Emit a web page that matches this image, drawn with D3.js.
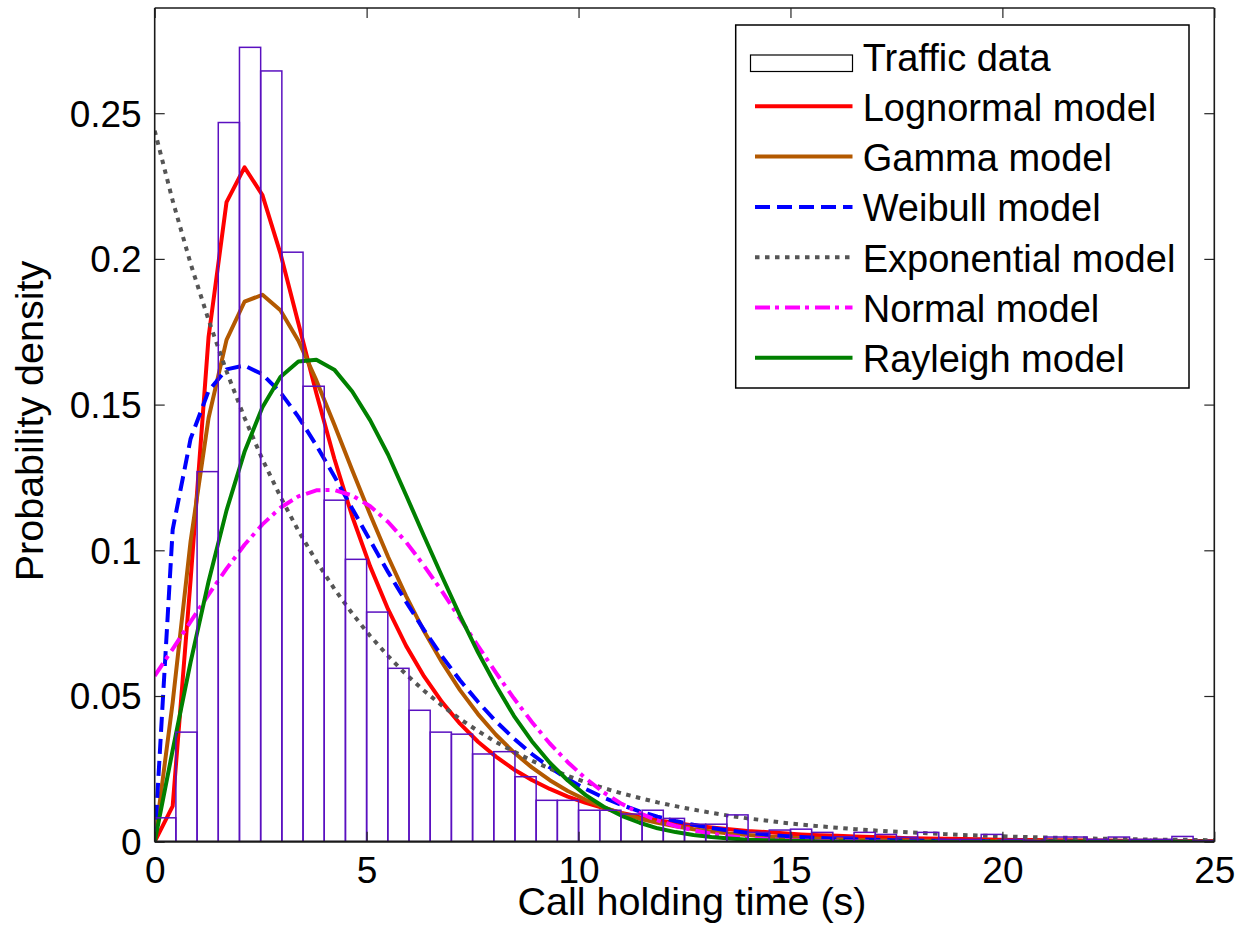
<!DOCTYPE html>
<html><head><meta charset="utf-8">
<script src="https://cdn.jsdelivr.net/npm/d3@7/dist/d3.min.js"></script>
<style>
body{margin:0;background:#fff}
svg text{font-family:"Liberation Sans",Arial,Helvetica,sans-serif;fill:#000}
</style>
</head><body><svg id="chart" width="1240" height="934"></svg>
<script>
// ---------------- data ----------------
const binEdges = [0,0.5,1,1.5,2,2.5,3,3.5,4,4.5,5,5.5,6,6.5,7,7.5,8,8.5,9,9.5,10,10.5,11,11.5,12,12.5,13,13.5,14,14.5,15,15.5,16,16.5,17,17.5,18,18.5,19,19.5,20,20.5,21,21.5,22,22.5,23,23.5,24,24.5,25];
const trafficDensity = [0.0082,0.0376,0.1270,0.2468,0.2726,0.2645,0.2023,0.1563,0.1172,0.0969,
  0.0788,0.0595,0.0451,0.0376,0.0369,0.0301,0.0309,0.0223,0.0142,0.0142,
  0.0108,0.0108,0.0095,0.0108,0.0080,0.0060,0.0060,0.0092,0.0032,0.0040,
  0.0043,0.0032,0.0017,0.0032,0.0025,0.0015,0.0032,0.0008,0.0008,0.0025,
  0.0008,0.0003,0.0016,0.0016,0.0008,0.0016,0.0008,0.0008,0.0018,0.0003];

const xGrid = [0,0.424,0.847,1.271,1.695,2.119,2.542,2.966,3.390,3.814,4.237,4.661,5.085,5.508,5.932,6.356,6.780,7.203,7.627,8.051,
  8.475,8.898,9.322,9.746,10.169,10.593,11.017,11.441,11.864,12.288,12.712,13.136,13.559,13.983,14.407,14.831,15.254,15.678,16.102,16.525,
  16.949,17.373,17.797,18.220,18.644,19.068,19.492,19.915,20.339,20.763,21.186,21.610,22.034,22.458,22.881,23.305,23.729,24.153,24.576,25.000];

const lognormalModel = [0,0.0122,0.0898,0.1732,0.2195,0.2314,0.2219,0.2019,0.1779,0.1539,0.1315,0.1116,0.0944,0.0797,0.0672,0.0567,0.0479,0.0405,0.0343,0.0292,
  0.0248,0.0212,0.0181,0.0155,0.0133,0.0115,0.0099,0.0086,0.0074,0.0064,0.0056,0.0049,0.0043,0.0037,0.0033,0.0029,0.0025,0.0022,0.0020,0.0018,
  0.0016,0.0014,0.0012,0.0011,0.0010,0.0009,0.0008,0.0007,0.0006,0.0006,0.0005,0.0005,0.0004,0.0004,0.0003,0.0003,0.0003,0.0002,0.0002,0.0002];

const gammaModel = [0,0.0478,0.1031,0.1454,0.1722,0.1853,0.1877,0.1824,0.1719,0.1583,0.1432,0.1275,0.1122,0.0977,0.0843,0.0722,0.0615,0.0520,0.0438,0.0367,
  0.0306,0.0255,0.0211,0.0174,0.0144,0.0118,0.0097,0.0079,0.0065,0.0053,0.0043,0.0035,0.0028,0.0023,0.0018,0.0015,0.0012,0.0010,0.0008,0.0006,
  0.0005,0.0004,0.0003,0.0003,0.0002,0.0002,0.0001,0.0001,0.0001,0.0001,0.0001,0,0,0,0,0,0,0,0,0];

const weibullModel = [0,0.1071,0.1383,0.1547,0.1621,0.1634,0.1604,0.1542,0.1458,0.1360,0.1254,0.1143,0.1033,0.0925,0.0823,0.0726,0.0636,0.0554,0.0480,0.0413,
  0.0354,0.0301,0.0255,0.0215,0.0181,0.0151,0.0126,0.0104,0.0086,0.0071,0.0058,0.0047,0.0038,0.0031,0.0025,0.0020,0.0016,0.0013,0.0010,0.0008,
  0.0007,0.0005,0.0004,0.0003,0.0003,0.0002,0.0002,0.0001,0.0001,0.0001,0.0001,0,0,0,0,0,0,0,0,0];

const exponentialModel = [0.2440,0.2200,0.1984,0.1790,0.1614,0.1455,0.1312,0.1184,0.1067,0.0963,0.0868,0.0783,0.0706,0.0637,0.0574,0.0518,0.0467,0.0421,0.0380,0.0342,
  0.0309,0.0278,0.0251,0.0226,0.0204,0.0184,0.0166,0.0150,0.0135,0.0122,0.0110,0.0099,0.0089,0.0080,0.0073,0.0065,0.0059,0.0053,0.0048,0.0043,
  0.0039,0.0035,0.0032,0.0029,0.0026,0.0023,0.0021,0.0019,0.0017,0.0015,0.0014,0.0013,0.0011,0.0010,0.0009,0.0008,0.0007,0.0007,0.0006,0.0005];

const normalModel = [0.0569,0.0661,0.0755,0.0848,0.0937,0.1019,0.1089,0.1146,0.1185,0.1206,0.1207,0.1188,0.1151,0.1097,0.1028,0.0947,0.0859,0.0766,0.0672,0.0580,
  0.0492,0.0411,0.0337,0.0273,0.0217,0.0169,0.0130,0.0098,0.0073,0.0054,0.0039,0.0027,0.0019,0.0013,0.0009,0.0006,0.0004,0.0002,0.0002,0.0001,
  0.0001,0,0,0,0,0,0,0,0,0,0,0,0,0,0,0,0,0,0,0];

const rayleighModel = [0,0.0314,0.0616,0.0893,0.1137,0.1338,0.1491,0.1595,0.1648,0.1654,0.1620,0.1545,0.1446,0.1328,0.1189,0.1048,0.0910,0.0776,0.0650,0.0536,
  0.0432,0.0345,0.0271,0.0210,0.0160,0.0120,0.0089,0.0065,0.0046,0.0033,0.0023,0.0016,0.0011,0.0007,0.0005,0.0003,0.0002,0.0001,0.0001,0,
  0,0,0,0,0,0,0,0,0,0,0,0,0,0,0,0,0,0,0,0];

const xTicks = [0,5,10,15,20,25];
const xTickLabels = ["0","5","10","15","20","25"];
const yTicks = [0,0.05,0.1,0.15,0.2,0.25];
const yTickLabels = ["0","0.05","0.1","0.15","0.2","0.25"];
const xDomain = [0,25];
const yDomain = [0,0.2861];
const xLabel = "Call holding time (s)";
const yLabel = "Probability density";
const histLabel = "Traffic data";

// model series (legend order)
const models = [
  {name:"Lognormal model",   values:lognormalModel,   color:"#ff0000", dash:null},
  {name:"Gamma model",       values:gammaModel,       color:"#b35900", dash:null},
  {name:"Weibull model",     values:weibullModel,     color:"#0000ff", dash:"15,7"},
  {name:"Exponential model", values:exponentialModel, color:"#555555", dash:"4.5,5.5"},
  {name:"Normal model",      values:normalModel,      color:"#ff00ff", dash:"15,5,4,6"},
  {name:"Rayleigh model",    values:rayleighModel,    color:"#008000", dash:null}
];

// ---------------- layout ----------------
const svg = d3.select("#chart");
const L = 154.7, R = 1214.3, T = 8, B = 841.7;
const TICKFONT = 37, LABELFONT = 39.5, LEGFONT = 38;
const x = d3.scaleLinear().domain(xDomain).range([L, R]);
const y = d3.scaleLinear().domain(yDomain).range([B, T]);

svg.append("rect").attr("width",1240).attr("height",934).attr("fill","#fff");

svg.append("defs").append("clipPath").attr("id","plotclip")
  .append("rect").attr("x",L).attr("y",T).attr("width",R-L).attr("height",B-T);

const plot = svg.append("g").attr("clip-path","url(#plotclip)");

// model curves
const line = d3.line().x(d=>x(d[0])).y(d=>y(d[1]));
models.forEach(m=>{
  plot.append("path")
    .datum(xGrid.map((xv,i)=>[xv,m.values[i]]))
    .attr("d",line)
    .attr("fill","none")
    .attr("stroke",m.color)
    .attr("stroke-width",4)
    .attr("stroke-linejoin","round")
    .attr("stroke-dasharray",m.dash);
});

// histogram (outlined bars)
plot.selectAll("rect.bar").data(trafficDensity).enter().append("rect")
  .attr("class","bar")
  .attr("x",(d,i)=>x(binEdges[i]))
  .attr("width",(d,i)=>x(binEdges[i+1])-x(binEdges[i]))
  .attr("y",d=>y(d))
  .attr("height",d=>B-y(d))
  .attr("fill","none")
  .attr("stroke","#5a10c0")
  .attr("stroke-width",1.5);

// ---------------- axes ----------------
function styleAxis(g){
  g.selectAll(".domain").remove();
  g.selectAll(".tick line").attr("stroke","#262626").attr("stroke-width",1.2);
  g.selectAll(".tick text").attr("font-size",TICKFONT).attr("fill","#000")
    .style("font-family",'"Liberation Sans",Arial,sans-serif');
}
const gx = svg.append("g").attr("transform",`translate(0,${B})`)
  .call(d3.axisBottom(x).tickValues(xTicks).tickFormat((d,i)=>xTickLabels[i]).tickSize(-10).tickPadding(15));
styleAxis(gx);
const gxt = svg.append("g").attr("transform",`translate(0,${T})`)
  .call(d3.axisTop(x).tickValues(xTicks).tickFormat("").tickSize(-10));
styleAxis(gxt);
const gy = svg.append("g").attr("transform",`translate(${L},0)`)
  .call(d3.axisLeft(y).tickValues(yTicks).tickFormat((d,i)=>yTickLabels[i]).tickSize(-10).tickPadding(13));
styleAxis(gy);
gy.selectAll(".tick text").attr("dy","0.35em");
const gyr = svg.append("g").attr("transform",`translate(${R},0)`)
  .call(d3.axisRight(y).tickValues(yTicks).tickFormat("").tickSize(-10));
styleAxis(gyr);

// box
svg.append("line").attr("x1",L).attr("x2",R).attr("y1",B).attr("y2",B).attr("stroke","#1a1a1a").attr("stroke-width",2.2);
svg.append("line").attr("x1",L).attr("x2",L).attr("y1",T).attr("y2",B).attr("stroke","#1a1a1a").attr("stroke-width",1.6);
svg.append("line").attr("x1",L).attr("x2",R).attr("y1",T).attr("y2",T).attr("stroke","#1a1a1a").attr("stroke-width",1.4);
svg.append("line").attr("x1",R).attr("x2",R).attr("y1",T).attr("y2",B).attr("stroke","#1a1a1a").attr("stroke-width",1.6);

// axis labels
svg.append("text").attr("x",692).attr("y",915).attr("text-anchor","middle")
  .attr("font-size",LABELFONT).text(xLabel);
svg.append("text").attr("transform",`translate(42.5,421) rotate(-90)`).attr("text-anchor","middle")
  .attr("font-size",LABELFONT).text(yLabel);

// ---------------- legend ----------------
const lg = svg.append("g");
lg.append("rect").attr("x",735.7).attr("y",25).attr("width",1189-735.7).attr("height",388-25)
  .attr("fill","#fff").attr("stroke","#000").attr("stroke-width",1.5);
const rowH = 50.3, firstBase = 70.5, textX = 862.7, lx1 = 755, lx2 = 852.5;
lg.append("rect").attr("x",750.5).attr("y",55).attr("width",102).attr("height",16.5)
  .attr("fill","#fff").attr("stroke","#000").attr("stroke-width",1.2);
lg.append("text").attr("x",textX).attr("y",firstBase).attr("font-size",LEGFONT).text(histLabel);
models.forEach((m,i)=>{
  const base = firstBase + rowH*(i+1);
  lg.append("line").attr("x1",lx1).attr("x2",lx2).attr("y1",base-14.5).attr("y2",base-14.5)
    .attr("stroke",m.color).attr("stroke-width",4).attr("stroke-dasharray",m.dash);
  lg.append("text").attr("x",textX).attr("y",base).attr("font-size",LEGFONT).text(m.name);
});
</script>
</body></html>
